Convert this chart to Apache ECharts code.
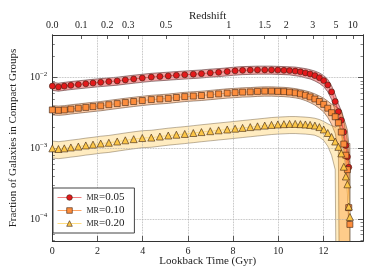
<!DOCTYPE html>
<html><head><meta charset="utf-8">
<script src="https://cdn.jsdelivr.net/npm/echarts@6/dist/echarts.min.js"></script>
<style>html,body{margin:0;padding:0;background:#fff}#c{width:374px;height:280px}</style>
</head><body><div id="c"></div>
<script>
// Lookback time (Gyr) of each snapshot
const times = [0.00, 0.27, 0.53, 0.82, 1.15, 1.48, 1.80, 2.14, 2.50, 2.87,
  3.23, 3.60, 3.98, 4.38, 4.76, 5.13, 5.49, 5.86, 6.24, 6.60,
  6.99, 7.36, 7.74, 8.09, 8.42, 8.76, 9.08, 9.40, 9.70, 9.98,
  10.25, 10.50, 10.75, 10.98, 11.20, 11.41, 11.62, 11.82, 12.01, 12.19,
  12.36, 12.52, 12.66, 12.79, 12.90, 12.99, 13.06, 13.12, 13.17];

const legendNames = ['MR=0.05', 'MR=0.10', 'MR=0.20'];

const red = [7.6e-3, 7.4e-3, 7.6e-3, 7.8e-3, 8.0e-3, 8.2e-3, 8.4e-3, 8.6e-3, 8.8e-3, 9.0e-3,
  9.3e-3, 9.6e-3, 9.9e-3, 1.02e-2, 1.04e-2, 1.06e-2, 1.08e-2, 1.10e-2, 1.12e-2, 1.14e-2,
  1.17e-2, 1.19e-2, 1.22e-2, 1.25e-2, 1.27e-2, 1.28e-2, 1.29e-2, 1.29e-2, 1.29e-2, 1.28e-2,
  1.27e-2, 1.26e-2, 1.24e-2, 1.21e-2, 1.17e-2, 1.13e-2, 1.07e-2, 1.0e-2, 9.1e-3, 7.9e-3,
  6.3e-3, 4.6e-3, 3.3e-3, 2.5e-3, 1.7e-3, 1.1e-3, 7.6e-4, 5.4e-4];
const redRelErr = [0.13, 0.13, 0.13, 0.13, 0.13, 0.13, 0.13, 0.13, 0.13, 0.13,
  0.13, 0.13, 0.13, 0.13, 0.13, 0.13, 0.13, 0.13, 0.13, 0.13,
  0.13, 0.13, 0.13, 0.13, 0.13, 0.13, 0.13, 0.13, 0.13, 0.13,
  0.13, 0.13, 0.14, 0.14, 0.15, 0.15, 0.16, 0.17, 0.18, 0.20,
  0.22, 0.26, 0.30, 0.36, 0.45, 0.55, 0.70, 0.85];

const orange = [3.5e-3, 3.45e-3, 3.5e-3, 3.6e-3, 3.7e-3, 3.8e-3, 3.9e-3, 4.0e-3, 4.15e-3, 4.3e-3,
  4.45e-3, 4.6e-3, 4.75e-3, 4.9e-3, 5.0e-3, 5.1e-3, 5.25e-3, 5.4e-3, 5.5e-3, 5.6e-3,
  5.75e-3, 5.9e-3, 6.05e-3, 6.15e-3, 6.25e-3, 6.3e-3, 6.4e-3, 6.45e-3, 6.45e-3, 6.4e-3,
  6.35e-3, 6.25e-3, 6.1e-3, 5.9e-3, 5.65e-3, 5.35e-3, 5.0e-3, 4.6e-3, 4.2e-3, 3.7e-3,
  3.2e-3, 2.8e-3, 2.3e-3, 1.7e-3, 1.15e-3, 8.0e-4, 5.0e-4, 1.45e-4, 8.4e-5];
const orangeRelErr = [0.15, 0.15, 0.15, 0.15, 0.15, 0.15, 0.15, 0.15, 0.15, 0.15,
  0.15, 0.15, 0.15, 0.15, 0.15, 0.15, 0.15, 0.15, 0.15, 0.15,
  0.15, 0.15, 0.15, 0.15, 0.15, 0.15, 0.15, 0.15, 0.15, 0.15,
  0.15, 0.15, 0.15, 0.15, 0.16, 0.17, 0.18, 0.20, 0.22, 0.26,
  0.32, 0.42, 0.60, 1.05, 1.30, 1.70, 2.60, 7.0, 13.0];

const yellow = [1.0e-3, 0.98e-3, 1.0e-3, 1.03e-3, 1.06e-3, 1.1e-3, 1.13e-3, 1.17e-3, 1.2e-3, 1.25e-3,
  1.3e-3, 1.35e-3, 1.4e-3, 1.42e-3, 1.47e-3, 1.52e-3, 1.56e-3, 1.6e-3, 1.65e-3, 1.7e-3,
  1.75e-3, 1.8e-3, 1.85e-3, 1.9e-3, 1.95e-3, 2.0e-3, 2.05e-3, 2.1e-3, 2.15e-3, 2.18e-3,
  2.2e-3, 2.22e-3, 2.22e-3, 2.2e-3, 2.18e-3, 2.15e-3, 2.1e-3, 2.0e-3, 1.85e-3, 1.65e-3,
  1.45e-3, 1.25e-3, 1.05e-3, 8.5e-4, 5.5e-4, 4.0e-4, 3.1e-4, 1.5e-4, 1.07e-4];
const yellowRelErr = [0.27, 0.27, 0.27, 0.27, 0.27, 0.27, 0.27, 0.27, 0.27, 0.27,
  0.27, 0.27, 0.27, 0.27, 0.27, 0.27, 0.27, 0.27, 0.27, 0.27,
  0.27, 0.27, 0.27, 0.27, 0.27, 0.27, 0.27, 0.27, 0.27, 0.27,
  0.27, 0.27, 0.27, 0.27, 0.27, 0.27, 0.27, 0.28, 0.30, 0.35,
  0.45, 0.60, 1.00, 1.20, 1.50, 1.80, 2.20, 3.50, 5.00];

// Top axis: redshift labels and their lookback times
const zLabels = ['0.0', '0.1', '0.2', '0.3', '0.5', '1', '1.5', '2', '3', '5', '10'];
const zTimes = [0, 1.28, 2.43, 3.36, 5.03, 7.81, 9.40, 10.35, 11.53, 12.55, 13.30];

const xTicks = [0, 2, 4, 6, 8, 10, 12];
const yMinorTicks = [5e-5, 6e-5, 7e-5, 8e-5, 9e-5,
  2e-4, 3e-4, 4e-4, 5e-4, 6e-4, 7e-4, 8e-4, 9e-4,
  2e-3, 3e-3, 4e-3, 5e-3, 6e-3, 7e-3, 8e-3, 9e-3,
  2e-2, 3e-2, 4e-2];

const FONT = 'Liberation Serif';
const X_MAX = 13.75, Y_MIN = 4.89e-5, Y_MAX = 0.0402;
const AX = '#333';

const chart = echarts.init(document.getElementById('c'), null, {renderer: 'canvas'});

function pairs(vals) { return vals.map((v, i) => [times[i], v]); }

function band(vals, rel, fill, stroke) {
  return {
    type: 'custom', xAxisIndex: 0, yAxisIndex: 0, z: 1, silent: true,
    data: [[times[0], vals[0]]],
    renderItem(params, api) {
      const up = [], lo = [];
      for (let i = 0; i < vals.length; i++) {
        const e = vals[i] * rel[i];
        up.push(api.coord([times[i], vals[i] + e]));
        const l = vals[i] - e;
        lo.push(api.coord([times[i], l > 0 ? l : 1e-9]));
      }
      const cs = params.coordSys;
      return {
        type: 'polygon',
        shape: {points: up.concat(lo.reverse())},
        style: {fill: fill, stroke: stroke, lineWidth: 0.8},
        clipPath: {type: 'rect', shape: {x: cs.x, y: cs.y, width: cs.width, height: cs.height}}
      };
    }
  };
}

function lineSeries(name, vals, symbol, size, fill, lineColor) {
  return {
    type: 'line', name: name, data: pairs(vals), xAxisIndex: 0, yAxisIndex: 0, z: 3,
    symbol: symbol, symbolSize: size, showAllSymbol: true, silent: true,
    lineStyle: {color: lineColor, width: 1},
    itemStyle: {color: fill, borderColor: '#3a2010', borderWidth: 0.6},
    emphasis: {disabled: true}
  };
}

function yLabel(v) {
  const e = Math.round(Math.log10(v));
  return '{b|10}{s|\u2212' + Math.abs(e) + '}';
}

const yRich = {
  b: {fontFamily: FONT, fontSize: 10, color: '#222', lineHeight: 14},
  s: {fontFamily: FONT, fontSize: 7, color: '#222', lineHeight: 8, verticalAlign: 'top'}
};

function yAxisBase(pos) {
  return {
    type: 'log', logBase: 10, min: Y_MIN, max: Y_MAX, position: pos, z: 1.5,
    axisLine: {show: true, lineStyle: {color: AX, width: 1}},
    splitLine: {show: false},
    axisLabel: {show: false},
    axisTick: {show: true, inside: true, length: 5, lineStyle: {color: AX, width: 0.8}}
  };
}

const leftMajor = yAxisBase('left');
leftMajor.name = 'Fraction of Galaxies in Compact Groups';
leftMajor.nameLocation = 'middle';
leftMajor.nameGap = 29;
leftMajor.nameTextStyle = {fontFamily: FONT, fontSize: 11, color: '#222'};
leftMajor.axisLabel = {show: true, formatter: yLabel, rich: yRich, margin: 5, showMinLabel: false, showMaxLabel: false};
leftMajor.splitLine = {show: true, lineStyle: {color: '#aaa', type: 'dotted', width: 0.8}};

const leftMinor = yAxisBase('left');
leftMinor.axisTick = {show: true, inside: true, length: 2.5, customValues: yMinorTicks, lineStyle: {color: AX, width: 0.6}};
const rightMajor = yAxisBase('right');
const rightMinor = yAxisBase('right');
rightMinor.axisTick = {show: true, inside: true, length: 2.5, customValues: yMinorTicks, lineStyle: {color: AX, width: 0.6}};

const option = {
  animation: false,
  backgroundColor: '#fff',
  grid: {left: 48, right: 11, top: 35, bottom: 39},
  legend: {
    left: 53, top: 188, orient: 'vertical',
    itemWidth: 24, itemHeight: 7, itemGap: 2, padding: [4, 10, 4, 4],
    backgroundColor: '#fff', borderColor: '#444', borderWidth: 1, borderRadius: 0,
    data: legendNames,
    selectedMode: false,
    itemStyle: {borderWidth: 0.6, borderColor: '#3a2010'},
    lineStyle: {width: 1},
    formatter: n => '{sc|MR}{n|' + n.slice(2) + '}',
    textStyle: {
      fontFamily: FONT, color: '#222', fontSize: 11,
      rich: {
        sc: {fontFamily: FONT, fontSize: 8, color: '#222', lineHeight: 12},
        n: {fontFamily: FONT, fontSize: 11, color: '#222', lineHeight: 12}
      }
    }
  },
  xAxis: [
    {
      type: 'value', position: 'bottom', min: 0, max: X_MAX, interval: 2, z: 1.5,
      name: 'Lookback Time (Gyr)', nameLocation: 'middle', nameGap: 15, nameMoveOverlap: false,
      nameTextStyle: {fontFamily: FONT, fontSize: 11, color: '#222'},
      axisLine: {show: true, lineStyle: {color: AX, width: 1}},
      axisTick: {show: true, inside: true, length: 5, customValues: xTicks, lineStyle: {color: AX, width: 0.8}},
      axisLabel: {customValues: xTicks, fontFamily: FONT, fontSize: 10, color: '#222', margin: 5},
      splitLine: {show: true, lineStyle: {color: '#aaa', type: 'dotted', width: 0.8}}
    },
    {
      type: 'value', position: 'top', min: 0, max: X_MAX, z: 1.5,
      name: 'Redshift', nameLocation: 'middle', nameGap: 13, nameMoveOverlap: false,
      nameTextStyle: {fontFamily: FONT, fontSize: 11, color: '#222'},
      axisLine: {show: true, lineStyle: {color: AX, width: 1}},
      axisTick: {show: true, inside: true, length: 4, customValues: zTimes, lineStyle: {color: AX, width: 0.8}},
      axisLabel: {
        customValues: zTimes, fontFamily: FONT, fontSize: 10, color: '#222', margin: 5,
        formatter: v => {
          let best = 0;
          for (let i = 0; i < zTimes.length; i++) if (Math.abs(zTimes[i] - v) < Math.abs(zTimes[best] - v)) best = i;
          return zLabels[best];
        }
      },
      splitLine: {show: false}
    }
  ],
  yAxis: [leftMajor, leftMinor, rightMajor, rightMinor],
  series: [
    band(red, redRelErr, 'rgba(227,26,28,0.4)', 'rgba(70,40,40,0.7)'),
    lineSeries(legendNames[0], red, 'circle', 6, '#e31a1c', 'rgba(227,26,28,0.55)'),
    band(orange, orangeRelErr, 'rgba(253,141,60,0.45)', 'rgba(80,50,30,0.65)'),
    lineSeries(legendNames[1], orange, 'rect', 6, '#fd8d3c', 'rgba(253,141,60,0.8)'),
    band(yellow, yellowRelErr, 'rgba(254,204,92,0.38)', 'rgba(90,70,40,0.5)'),
    lineSeries(legendNames[2], yellow, 'triangle', 7, '#fcc647', 'rgba(254,217,118,0.9)')
  ]
};
chart.setOption(option);
</script>
</body></html>
